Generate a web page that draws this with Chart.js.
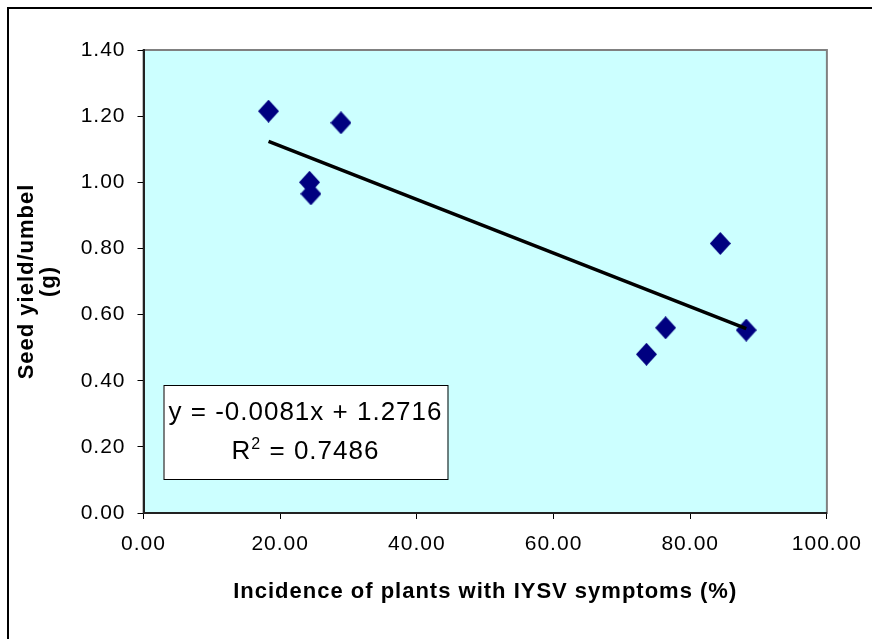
<!DOCTYPE html>
<html>
<head>
<meta charset="utf-8">
<script src="https://cdn.jsdelivr.net/npm/chart.js@4/dist/chart.umd.min.js"></script>
<style>
  html, body { margin: 0; padding: 0; background: #fff; }
  #wrap { width: 872px; height: 639px; position: relative; }
</style>
</head>
<body>
<div id="wrap"><canvas id="seedChart"></canvas></div>
<script>
// values
const incidence = [18.3, 24.3, 24.5, 28.9, 73.6, 76.4, 84.4, 88.2];
const seedYield = [1.215, 1.00, 0.965, 1.18, 0.48, 0.56, 0.815, 0.553];

// trendline as printed on the chart
const slope = -0.0081;
const intercept = 1.2716;
const rSquared = "0.7486";

const xTitle = "Incidence of plants with IYSV symptoms (%)";
const yTitle = ["Seed yield/umbel", "(g)"];

const xMin = Math.min(...incidence);
const xMax = Math.max(...incidence);
const trend = [
    { x: xMin, y: slope * xMin + intercept },
    { x: xMax, y: slope * xMax + intercept }
];

// excel style diamond marker, a bit taller than wide
const makeDiamond = () => {
    const c = document.createElement("canvas");
    c.width = 21;
    c.height = 23;
    const g = c.getContext("2d");
    g.fillStyle = "#000080";
    g.beginPath();
    g.moveTo(10.5, 0);
    g.lineTo(21, 11.5);
    g.lineTo(10.5, 23);
    g.lineTo(0, 11.5);
    g.closePath();
    g.fill();
    return c;
};

const FONT = "'Liberation Sans', Arial, sans-serif";

// background, plot frame and outer frame
const framePlugin = {
    id: "frame",
    beforeDraw(chart) {
        const { ctx, chartArea: a } = chart;
        ctx.save();
        ctx.fillStyle = "#ffffff";
        ctx.fillRect(0, 0, chart.width, chart.height);
        ctx.strokeStyle = "#000000";
        ctx.lineWidth = 2;
        ctx.beginPath();
        ctx.moveTo(8, chart.height + 5);
        ctx.lineTo(8, 8);
        ctx.lineTo(chart.width + 5, 8);
        ctx.stroke();
        ctx.fillStyle = "#ccffff";
        ctx.fillRect(a.left, a.top, a.right - a.left, a.bottom - a.top);
        ctx.strokeStyle = "#808080";
        ctx.lineWidth = 2;
        ctx.strokeRect(a.left, a.top, a.right - a.left, a.bottom - a.top);
        ctx.restore();
        // the original text is set a little wide
        ctx.letterSpacing = "1px";
    }
};

// equation label box
const equationPlugin = {
    id: "equation",
    afterDatasetsDraw(chart) {
        const { ctx, chartArea: a } = chart;
        const bx = a.left + 20, by = a.top + 335, bw = 284, bh = 94;
        ctx.save();
        ctx.fillStyle = "#ffffff";
        ctx.fillRect(bx, by, bw, bh);
        ctx.strokeStyle = "#000000";
        ctx.lineWidth = 1;
        ctx.strokeRect(bx + 0.5, by + 0.5, bw, bh);

        ctx.fillStyle = "#000000";
        ctx.textBaseline = "alphabetic";
        ctx.font = "26px " + FONT;
        const line1 = "y = " + slope.toFixed(4) + "x + " + intercept.toFixed(4);
        ctx.textAlign = "center";
        ctx.fillText(line1, bx + bw / 2, by + 35);

        // R² line with raised 2
        const partA = "R", partB = "2", partC = " = " + rSquared;
        ctx.font = "26px " + FONT;
        const wA = ctx.measureText(partA).width;
        const wC = ctx.measureText(partC).width;
        ctx.font = "16px " + FONT;
        const wB = ctx.measureText(partB).width;
        let x = bx + bw / 2 - (wA + wB + wC) / 2;
        const base = by + 74;
        ctx.textAlign = "left";
        ctx.font = "26px " + FONT;
        ctx.fillText(partA, x, base);
        x += wA;
        ctx.font = "16px " + FONT;
        ctx.fillText(partB, x, base - 10);
        x += wB;
        ctx.font = "26px " + FONT;
        ctx.fillText(partC, x, base);
        ctx.restore();
    }
};

const chart = new Chart(document.getElementById("seedChart"), {
    type: "scatter",
    data: {
        datasets: [
            {
                label: "Seed yield",
                data: incidence.map((v, i) => ({ x: v, y: seedYield[i] })),
                pointStyle: makeDiamond(),
                pointRadius: 10,
                pointHoverRadius: 10,
                backgroundColor: "#000080",
                borderColor: "#000080",
                order: 2
            },
            {
                type: "line",
                label: "Linear trend",
                data: trend,
                borderColor: "#000000",
                borderWidth: 3.5,
                pointRadius: 0,
                fill: false,
                order: 1
            }
        ]
    },
    options: {
        responsive: true,
        maintainAspectRatio: false,
        animation: false,
        layout: { padding: { top: 50, right: 41, left: 0, bottom: 0 } },
        plugins: {
            legend: { display: false },
            tooltip: { enabled: false }
        },
        scales: {
            x: {
                type: "linear",
                min: 0,
                max: 100,
                afterFit: (s) => { s.height = 126; },
                ticks: {
                    stepSize: 20,
                    padding: 13,
                    color: "#000000",
                    font: { family: FONT, size: 21 },
                    callback: (v) => Number(v).toFixed(2)
                },
                grid: { drawOnChartArea: false, drawTicks: true, tickLength: 6, color: "#000000" },
                border: { display: true, color: "#222222", width: 2 },
                title: {
                    display: true,
                    text: xTitle,
                    color: "#000000",
                    font: { family: FONT, size: 22, weight: "bold" },
                    padding: { top: 0, bottom: 34 }
                }
            },
            y: {
                min: 0,
                max: 1.4,
                afterFit: (s) => { s.width = 143.5; },
                ticks: {
                    stepSize: 0.2,
                    padding: 12,
                    color: "#000000",
                    font: { family: FONT, size: 21 },
                    callback: (v) => Number(v).toFixed(2)
                },
                grid: { drawOnChartArea: false, drawTicks: true, tickLength: 6, color: "#000000" },
                border: { display: true, color: "#222222", width: 2 },
                title: {
                    display: true,
                    text: yTitle,
                    color: "#000000",
                    font: { family: FONT, size: 22, weight: "bold", lineHeight: 1.0 },
                    padding: { top: 16, bottom: 0 }
                }
            }
        }
    },
    plugins: [framePlugin, equationPlugin]
});
</script>
</body>
</html>
